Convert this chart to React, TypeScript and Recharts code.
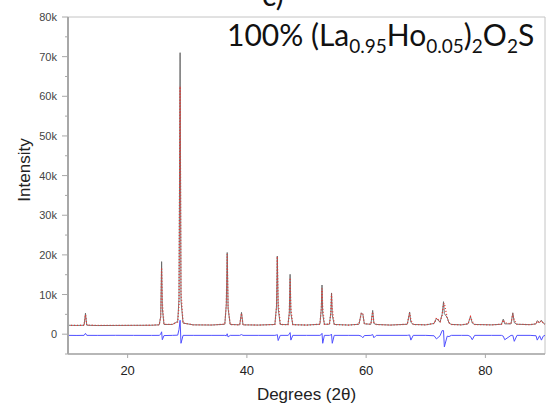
import { LineChart, Line, XAxis, YAxis, ReferenceArea } from "recharts";

// 2-theta positions (deg) and the three curves of the refinement
const twoTheta = [
  10.0, 11.5, 12.7, 12.93, 13.15, 15.0, 18.0, 21.0, 24.0, 25.3, 25.55, 25.7, 25.82, 26.1,
  27.5, 28.4, 28.62, 28.8, 28.95, 29.3, 31.0, 34.0, 36.3, 36.55, 36.7, 36.85, 37.2,
  38.8, 39.1, 39.35, 42.0, 44.7, 44.97, 45.1, 45.25, 45.6, 46.9, 47.12, 47.25, 47.38, 47.7,
  50.0, 52.25, 52.48, 52.6, 52.72, 53.0, 53.85, 54.08, 54.2, 54.32, 54.65, 57.0,
  58.8, 59.2, 59.45, 59.7, 60.8, 61.1, 61.3, 61.7, 64.0, 66.9, 67.3, 67.5, 67.9, 70.0,
  71.4, 71.8, 72.4, 72.75, 72.98, 73.12, 73.6, 73.9, 74.3, 76.0, 77.1, 77.5, 77.8, 78.2,
  81.0, 82.7, 83.0, 83.25, 84.3, 84.6, 84.85, 85.3, 87.5, 88.5, 88.7, 89.1, 89.4, 89.7, 90.0,
];
const observed = [
  2250, 2200, 2250, 5300, 2250, 2180, 2200, 2230, 2250, 2350, 4500, 18300, 6500, 2450,
  2450, 3200, 9000, 71000, 8500, 2800, 2350, 2300, 2500, 7500, 20600, 6500, 2450,
  2350, 5500, 2350, 2300, 2450, 7000, 19700, 6500, 2450, 2400, 5500, 15100, 5200, 2400,
  2300, 2500, 6500, 12400, 5000, 2500, 2500, 5500, 10400, 4800, 2450, 2300,
  2500, 5400, 5000, 2600, 2500, 6000, 2700, 2450, 2300, 2500, 5600, 3000, 2450, 2350,
  2700, 4000, 3000, 5000, 8200, 5200, 4200, 2800, 2450, 2350, 2600, 4500, 2800, 2450,
  2350, 2500, 3800, 2600, 2600, 5400, 2900, 2500, 2400, 2600, 3400, 2900, 3500, 2800, 2500,
];
const calculated = [
  2250, 2230, 2260, 4900, 2280, 2220, 2210, 2220, 2260, 2380, 4200, 16800, 8000, 2500,
  2450, 3100, 7500, 62500, 10800, 2800, 2350, 2320, 2520, 7600, 20200, 6900, 2450,
  2350, 5200, 2350, 2300, 2450, 6800, 19600, 8000, 2450, 2400, 5200, 14200, 6500, 2400,
  2300, 2500, 6200, 11500, 6800, 2500, 2500, 5300, 10200, 6500, 2450, 2300,
  2500, 5300, 5200, 2650, 2500, 5600, 3000, 2450, 2300, 2500, 5300, 3600, 2450, 2350,
  2700, 4100, 3200, 4800, 7600, 7800, 4100, 2900, 2450, 2350, 2600, 4400, 3200, 2450,
  2350, 2500, 3600, 2900, 2600, 5200, 3500, 2500, 2400, 2600, 3300, 2900, 3400, 2800, 2500,
];
const difference = [
  -300, -320, -300, 200, -300, -310, -290, -300, -310, -300, 0, 600, -1400, -350,
  -300, -250, 1200, 3500, -2300, -300, -300, -300, -300, -400, 100, -700, -300,
  -300, -100, -300, -300, -300, -200, -100, -1600, -300, -300, 0, 400, -1500, -300,
  -300, -300, -100, 200, -2300, -300, -300, -200, 0, -2300, -300, -300,
  -300, -500, -900, -350, -300, -100, -900, -300, -300, -300, -200, -1500, -300, -300,
  -400, -1200, -400, 900, 900, -3200, -500, -600, -300, -300, -300, -600, -1400, -300,
  -300, -300, -500, -1400, -300, -300, -1800, -300, -300, -400, -1500, -400, -1500, -500, -300,
];

const xTicks = [20, 40, 60, 80];
const yTicks = [-5000, 0, 5000, 10000, 15000, 20000, 25000, 30000, 35000, 40000, 45000, 50000, 55000, 60000, 65000, 70000, 75000, 80000];

const data = twoTheta.map((t, i) => ({
  t,
  obs: observed[i],
  calc: calculated[i],
  diff: difference[i],
}));

const axisGrey = "#a8a8a8";
const font = "'Liberation Sans', Arial, sans-serif";

function YTick(props: any) {
  const { x, y, payload } = props;
  const v = Math.round(Number(payload.value));
  const major = v % 10000 === 0;
  const label = v === 0 ? "0" : `${v / 1000}k`;
  return (
    <g>
      <line x1={x - (major ? 6 : 3)} x2={x} y1={y} y2={y} stroke={axisGrey} />
      {major && (
        <text x={x - 11} y={y} dy={4} textAnchor="end" fontSize={11} fill="#444" fontFamily={font}>
          {label}
        </text>
      )}
    </g>
  );
}

export default function App() {
  return (
    <div style={{ position: "absolute", left: 0, top: 0, width: 549, height: 409, background: "#fff", overflow: "hidden" }}>
      <div style={{ position: "absolute", left: 262, top: -24, fontFamily: "Lato, sans-serif", fontSize: 30, color: "#111" }}>
        c)
      </div>
      <LineChart width={549} height={409} data={data} margin={{ top: 17, right: 4, left: 0, bottom: 25 }}>
        <XAxis
          dataKey="t"
          type="number"
          domain={[10, 90]}
          ticks={xTicks}
          interval={0}
          tick={{ fontSize: 13, fill: "#222", fontFamily: font }}
          tickLine={{ stroke: axisGrey }}
          tickSize={4}
          tickMargin={8}
          height={30}
          axisLine={{ stroke: axisGrey, strokeWidth: 1.5 }}
          label={{ value: "Degrees (2θ)", position: "bottom", offset: 4, fontSize: 17, fill: "#222", fontFamily: font }}
        />
        <YAxis
          type="number"
          domain={[-5000, 80000]}
          ticks={yTicks}
          interval={0}
          tick={(p: any) => <YTick {...p} />}
          tickLine={false}
          tickSize={0}
          tickMargin={0}
          width={68}
          axisLine={{ stroke: axisGrey, strokeWidth: 2 }}
        />
        <ReferenceArea x1={10} x2={90} y1={-5000} y2={80000} fill="none" stroke="#c4c4c4" strokeWidth={1} ifOverflow="visible" />
        <Line type="linear" dataKey="obs" stroke="#666" strokeWidth={0.9} dot={false} isAnimationActive={false} />
        <Line type="linear" dataKey="calc" stroke="#e53935" strokeWidth={1.3} strokeDasharray="1 2" dot={false} isAnimationActive={false} />
        <Line type="linear" dataKey="diff" stroke="#5050ff" strokeWidth={1} dot={false} isAnimationActive={false} />
      </LineChart>
      <div style={{ position: "absolute", left: 227, top: 16, fontFamily: "Lato, sans-serif", fontSize: 30, color: "#111", whiteSpace: "nowrap" }}>
        100% (La<sub style={{ fontSize: 19 }}>0.95</sub>Ho<sub style={{ fontSize: 19 }}>0.05</sub>)<sub style={{ fontSize: 19 }}>2</sub>O<sub style={{ fontSize: 19 }}>2</sub>S
      </div>
      <div style={{ position: "absolute", left: 14, top: 170, transform: "translate(-50%, -50%) rotate(-90deg)", transformOrigin: "center", marginLeft: 11, fontFamily: font, fontSize: 17, color: "#222", whiteSpace: "nowrap" }}>
        Intensity
      </div>
    </div>
  );
}
